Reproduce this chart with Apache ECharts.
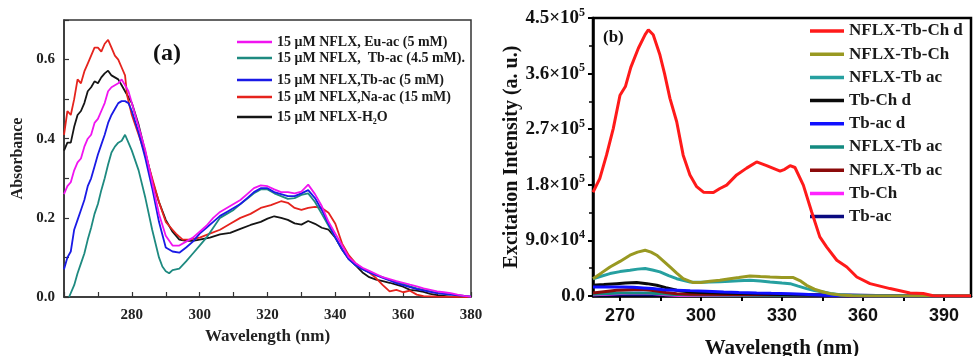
<!DOCTYPE html>
<html>
<head>
<meta charset="utf-8">
<script src="https://cdn.jsdelivr.net/npm/echarts@6/dist/echarts.min.js"></script>
<style>
html, body { margin: 0; padding: 0; background: #fff; }
#chart { width: 973px; height: 356px; }
</style>
</head>
<body>
<div id="chart"></div>
<script>
// ---- panel (a): absorbance, [wavelength nm, absorbance]
const absEuAc = [[260,0.26],[261,0.28],[262,0.29],[263,0.32],[264,0.34],[265,0.35],[266,0.38],[267,0.40],[268,0.41],[269,0.44],[270,0.45],[271,0.47],[272,0.49],[273,0.52],[274,0.53],[275,0.535],[276,0.54],[277,0.55],[278,0.535],[279,0.52],[280,0.49],[282,0.43],[284,0.37],[286,0.29],[288,0.21],[290,0.155],[292,0.13],[294,0.13],[296,0.14],[298,0.15],[300,0.165],[302,0.18],[304,0.20],[306,0.215],[308,0.225],[310,0.235],[312,0.245],[314,0.26],[316,0.275],[318,0.282],[320,0.28],[322,0.272],[324,0.265],[326,0.265],[328,0.262],[330,0.266],[332,0.284],[334,0.26],[336,0.23],[338,0.19],[340,0.16],[342,0.13],[344,0.10],[346,0.085],[348,0.074],[350,0.066],[352,0.058],[354,0.050],[356,0.045],[358,0.040],[360,0.036],[362,0.031],[364,0.027],[366,0.022],[368,0.018],[370,0.014],[372,0.012],[374,0.010],[376,0.006],[378,0.003],[380,0.001]];
const absTbAc45 = [[261.5,0],[263,0.03],[264,0.06],[265,0.085],[266,0.11],[267,0.145],[268,0.175],[269,0.21],[270,0.235],[271,0.27],[272,0.30],[273,0.335],[274,0.365],[275,0.38],[276,0.39],[277,0.395],[278,0.41],[279,0.39],[280,0.37],[282,0.32],[284,0.25],[286,0.17],[288,0.10],[289,0.077],[290,0.065],[291,0.06],[292,0.068],[294,0.072],[296,0.09],[298,0.11],[300,0.13],[302,0.15],[304,0.175],[306,0.20],[308,0.21],[310,0.22],[312,0.235],[314,0.248],[316,0.262],[318,0.272],[320,0.272],[322,0.262],[324,0.255],[326,0.248],[328,0.25],[330,0.258],[332,0.262],[334,0.24],[336,0.21],[338,0.18],[340,0.15],[342,0.12],[344,0.095],[346,0.08],[348,0.07],[350,0.062],[352,0.055],[354,0.05],[356,0.043],[358,0.038],[360,0.033],[362,0.027],[364,0.022],[366,0.018],[368,0.014],[370,0.01],[374,0.006],[378,0.003],[380,0.001]];
const absTbAc5 = [[260,0.07],[261,0.10],[262,0.115],[263,0.17],[264,0.195],[265,0.22],[266,0.245],[267,0.28],[268,0.30],[269,0.33],[270,0.36],[271,0.385],[272,0.41],[273,0.44],[274,0.46],[275,0.475],[276,0.49],[277,0.495],[278,0.495],[279,0.49],[280,0.47],[282,0.415],[284,0.35],[286,0.275],[288,0.19],[290,0.125],[292,0.115],[294,0.112],[296,0.125],[298,0.14],[300,0.16],[302,0.175],[304,0.19],[306,0.205],[308,0.215],[310,0.225],[312,0.235],[314,0.25],[316,0.265],[318,0.275],[320,0.275],[322,0.265],[324,0.26],[326,0.255],[328,0.255],[330,0.262],[332,0.27],[334,0.25],[336,0.22],[338,0.185],[340,0.15],[342,0.12],[344,0.095],[346,0.08],[348,0.07],[350,0.062],[352,0.055],[354,0.048],[356,0.042],[358,0.035],[360,0.030],[362,0.025],[364,0.02],[366,0.017],[368,0.013],[370,0.01],[374,0.006],[378,0.003],[380,0.001]];
const absNaAc = [[260,0.41],[261,0.47],[262,0.46],[263,0.50],[264,0.55],[265,0.54],[266,0.57],[267,0.59],[268,0.61],[269,0.63],[270,0.63],[271,0.62],[272,0.64],[273,0.65],[274,0.63],[275,0.61],[276,0.60],[277,0.58],[278,0.56],[278.6,0.51],[280,0.46],[282,0.41],[284,0.36],[286,0.30],[288,0.24],[290,0.19],[292,0.17],[293,0.16],[295,0.145],[297,0.145],[300,0.150],[303,0.160],[306,0.170],[309,0.185],[312,0.200],[315,0.210],[318,0.225],[321,0.232],[324,0.242],[326,0.238],[328,0.225],[330,0.220],[332,0.225],[334,0.228],[336,0.225],[338,0.213],[340,0.185],[342,0.135],[344,0.105],[346,0.085],[348,0.072],[350,0.062],[352,0.048],[354,0.030],[356,0.014],[358,0.018],[360,0.012],[362,0.016],[364,0.006],[366,0.002],[370,0.001],[380,0]];
const absH2O = [[260,0.37],[261,0.39],[262,0.39],[263,0.43],[264,0.46],[265,0.47],[266,0.49],[267,0.52],[268,0.53],[269,0.545],[270,0.54],[271,0.555],[272,0.565],[273,0.572],[274,0.56],[275,0.555],[276,0.55],[277,0.535],[278,0.52],[280,0.49],[282,0.435],[284,0.365],[286,0.295],[288,0.24],[290,0.195],[292,0.165],[294,0.145],[296,0.142],[298,0.142],[300,0.145],[303,0.15],[306,0.158],[309,0.162],[312,0.172],[315,0.182],[318,0.19],[320,0.198],[322,0.204],[324,0.200],[326,0.195],[328,0.186],[330,0.183],[332,0.192],[334,0.185],[336,0.175],[338,0.17],[340,0.15],[342,0.12],[344,0.097],[346,0.08],[348,0.062],[350,0.05],[352,0.044],[354,0.040],[356,0.036],[358,0.031],[360,0.026],[362,0.018],[364,0.016],[366,0.013],[368,0.008],[370,0.005],[374,0.001],[380,0]];

// ---- panel (b): excitation intensity, [wavelength nm, a.u.]
const excTbChD = [[260,168000],[262.5,190000],[265,228000],[267.5,271000],[270,325000],[272,339000],[274,370000],[276.8,401000],[279.3,423000],[280.5,431000],[282.3,423000],[284.8,390000],[286.5,360000],[288.5,320000],[291,282000],[293.4,228000],[295.9,196000],[298.4,177000],[300.9,168000],[304.6,167500],[307,174000],[309.5,179500],[313.2,196000],[316.9,207000],[320.6,217000],[324.3,211000],[329.3,202000],[331,205000],[333,211000],[334.8,208000],[337.9,179500],[341,136000],[344,95700],[346.5,79500],[350.3,57900],[354,47000],[357.7,30800],[362.6,20000],[370,12000],[377.4,4900],[382.3,3900],[386,500],[390,0],[400,0]];
const excTbCh = [[260,28000],[263,37000],[266.3,47000],[270,56000],[273.7,66000],[276.5,71000],[279.3,74000],[281.5,71000],[283.6,66000],[286,57000],[288.5,47000],[291,37000],[293.4,28000],[297.1,21700],[300,22000],[303.3,23800],[307,25500],[310.7,28000],[314,30000],[318.1,32500],[322,31500],[325.6,30800],[330,30000],[334.2,29800],[337,24000],[339.1,17300],[342,11000],[345.3,6500],[348,3500],[351.5,1500],[356,600],[360,200],[370,0],[400,0]];
const excTbAc = [[260,28000],[263,32000],[266.3,36300],[270,39500],[273.7,41700],[276.5,43500],[279.3,44400],[282,42000],[284.8,39000],[288,33000],[291,28000],[296,22700],[300,22300],[303.3,22700],[307,23000],[310.7,23800],[314,24700],[318.1,25500],[322,24200],[325.6,22700],[330,21000],[333,20000],[336,16000],[339.1,12000],[342,9000],[345.3,6500],[348,4000],[351.5,2000],[356,800],[360,300],[370,0],[400,0]];
const excChD = [[260,17300],[264,18500],[268.8,20000],[272,21000],[276.2,21700],[280,20000],[283.6,17300],[287,13500],[291,9200],[296,6500],[300,5500],[310,4500],[320,3500],[330,2500],[340,1800],[350,1000],[360,500],[370,200],[380,0],[400,0]];
const excAcD = [[260,14600],[265,14600],[271.3,14600],[275,14000],[278.7,13000],[282,12000],[286.1,10300],[291,9500],[296,8700],[302,7800],[308.4,6500],[314,5700],[320.6,4900],[326,4300],[333,3800],[338,2800],[345.3,1100],[350,400],[360,100],[400,0]];
const excTbAc2 = [[260,3000],[270,5000],[280,5000],[290,2500],[300,1500],[330,1000],[360,300],[400,0]];
const excTbAc3 = [[260,5000],[264,7000],[268.8,9200],[273,10300],[277.4,10800],[280,10000],[283.6,8000],[287,5500],[291,3800],[296,2800],[310,2500],[330,2200],[345,1800],[352,800],[360,200],[400,0]];
const excCh = [[260,2000],[265,3000],[270,4000],[277,5000],[282,4000],[287,2000],[292,1000],[320,800],[350,500],[370,0],[400,0]];
const excAc = [[260,1500],[270,2000],[280,2000],[290,1800],[300,1500],[320,1500],[340,1800],[355,1500],[365,1000],[375,500],[385,0],[400,0]];

const xTicksB = [270, 285, 300, 315, 330, 345, 360, 375, 390];
const xLabelsB = [270, 300, 330, 360, 390];

const serif = 'Liberation Serif';
const sans = 'Liberation Sans';

const chart = echarts.init(document.getElementById('chart'));

function sciLabel(v) {
    if (v === 0) return '{m|0.0}';
    const e = Math.floor(Math.log10(v));
    const m = (v / Math.pow(10, e)).toFixed(1);
    return '{m|' + m + '×10}{e|' + e + '}';
}

const legA = (name, top, formatter) => ({
    data: [name], left: 237, top: top, padding: 0, itemGap: 0,
    icon: 'rect', itemWidth: 35, itemHeight: 2.5, selectedMode: false,
    formatter: formatter,
    textStyle: {
        fontFamily: serif, fontWeight: 'bold', fontSize: 14, color: '#1a1a1a',
        rich: { sub: { fontFamily: serif, fontWeight: 'bold', fontSize: 8, color: '#1a1a1a', padding: [9, 0, 0, 0] } }
    }
});

const lineA = (name, data, color, z) => ({
    name: name, type: 'line', xAxisIndex: 0, yAxisIndex: 0, data: data,
    symbol: 'none', z: z, lineStyle: { color: color, width: 1.8 }, itemStyle: { color: color }
});
const lineB = (name, data, color, z) => ({
    name: name, type: 'line', xAxisIndex: 1, yAxisIndex: 1, data: data,
    symbol: 'none', z: z, lineStyle: { color: color, width: 3 }, itemStyle: { color: color }
});

const option = {
    animation: false,
    backgroundColor: '#fff',
    grid: [
        { left: 64, top: 20, right: 502, bottom: 59, outerBoundsMode: 'none', show: true, borderColor: '#333', borderWidth: 1.5 },
        { left: 593, top: 18, right: 2, bottom: 60, outerBoundsMode: 'none', show: true, borderColor: '#000', borderWidth: 2.5 }
    ],
    legend: [
        legA('NFLX, Eu-ac', 35, () => '15 μM NFLX, Eu-ac (5 mM)'),
        legA('NFLX, Tb-ac 4.5', 51, () => '15 μM NFLX,  Tb-ac (4.5 mM).'),
        legA('NFLX,Tb-ac 5', 73, () => '15 μM NFLX,Tb-ac (5 mM)'),
        legA('NFLX,Na-ac', 90, () => '15 μM NFLX,Na-ac (15 mM)'),
        legA('NFLX-H2O', 110, () => '15 μM NFLX-H{sub|2}O'),
        {
            data: ['NFLX-Tb-Ch d', 'NFLX-Tb-Ch', 'NFLX-Tb ac', 'Tb-Ch d', 'Tb-ac d', 'NFLX-Tb ac ', 'NFLX-Tb ac  ', 'Tb-Ch', 'Tb-ac'],
            orient: 'vertical', left: 810, top: 22, padding: 0, itemGap: 5.2,
            icon: 'rect', itemWidth: 34, itemHeight: 3.5, selectedMode: false,
            textStyle: { fontFamily: serif, fontWeight: 'bold', fontSize: 17, lineHeight: 18, color: '#1a1a1a' }
        }
    ],
    xAxis: [
        {
            gridIndex: 0, type: 'value', min: 260, max: 380, interval: 10,
            name: 'Wavelength (nm)', nameLocation: 'middle', nameGap: 31,
            nameTextStyle: { fontFamily: serif, fontWeight: 'bold', fontSize: 17, color: '#222' },
            axisLine: { lineStyle: { color: '#333', width: 1.5 } },
            axisTick: { inside: true, length: 5, lineStyle: { color: '#333', width: 1.2 } },
            splitLine: { show: false },
            axisLabel: {
                fontFamily: serif, fontWeight: 'bold', fontSize: 15, color: '#222', margin: 11,
                formatter: v => (v % 20 === 0 && v !== 260) ? String(v) : ''
            }
        },
        {
            gridIndex: 1, type: 'value', min: 260, max: 400,
            name: 'Wavelength (nm)', nameLocation: 'middle', nameGap: 42,
            nameTextStyle: { fontFamily: serif, fontWeight: 'bold', fontSize: 21, color: '#111' },
            axisLine: { lineStyle: { color: '#000', width: 2.5 } },
            axisTick: { customValues: xTicksB, length: 5, lineStyle: { color: '#000', width: 2 } },
            splitLine: { show: false },
            axisLabel: { customValues: xLabelsB, fontFamily: sans, fontWeight: 'bold', fontSize: 18, color: '#111', margin: 11 }
        }
    ],
    yAxis: [
        {
            gridIndex: 0, type: 'value', min: 0, max: 0.7, interval: 0.1,
            name: 'Absorbance', nameLocation: 'middle', nameGap: 38,
            nameTextStyle: { fontFamily: serif, fontWeight: 'bold', fontSize: 16, color: '#222' },
            axisLine: { show: true, lineStyle: { color: '#333', width: 1.5 } },
            axisTick: { inside: true, length: 5, lineStyle: { color: '#333', width: 1.2 } },
            splitLine: { show: false },
            axisLabel: {
                fontFamily: serif, fontWeight: 'bold', fontSize: 15, color: '#222', margin: 9,
                formatter: v => (Math.round(v * 10) % 2 === 0) ? v.toFixed(1) : ''
            }
        },
        {
            gridIndex: 1, type: 'value', min: 0, max: 450000, interval: 90000,
            name: 'Excitation Intensity (a. u.)', nameLocation: 'middle', nameGap: 70,
            nameTextStyle: { fontFamily: serif, fontWeight: 'bold', fontSize: 20, color: '#111' },
            axisLine: { show: true, lineStyle: { color: '#000', width: 2.5 } },
            axisTick: { length: 5, lineStyle: { color: '#000', width: 2 } },
            minorTick: { show: true, splitNumber: 2, length: 4, lineStyle: { color: '#000', width: 1.5 } },
            splitLine: { show: false },
            axisLabel: {
                margin: 8,
                formatter: sciLabel,
                rich: {
                    m: { fontFamily: serif, fontWeight: 'bold', fontSize: 19, color: '#111' },
                    e: { fontFamily: serif, fontWeight: 'bold', fontSize: 12, color: '#111', padding: [0, 0, 11, 0] }
                }
            }
        }
    ],
    graphic: [
        { type: 'text', left: 153, top: 42, style: { text: '(a)', font: 'bold 24px "Liberation Serif"', fill: '#111' } },
        { type: 'text', left: 603, top: 29, style: { text: '(b)', font: 'bold 17px "Liberation Serif"', fill: '#111' } }
    ],
    series: [
        lineA('NFLX-H2O', absH2O, '#151515', 2),
        lineA('NFLX,Na-ac', absNaAc, '#e5231d', 3),
        lineA('NFLX, Tb-ac 4.5', absTbAc45, '#1e8a80', 4),
        lineA('NFLX,Tb-ac 5', absTbAc5, '#1a1ae6', 5),
        lineA('NFLX, Eu-ac', absEuAc, '#f014f0', 6),
        lineB('Tb-ac', excAc, '#0a0a80', 2),
        lineB('Tb-Ch', excCh, '#ff22ff', 3),
        lineB('NFLX-Tb ac ', excTbAc2, '#138a80', 4),
        lineB('NFLX-Tb ac  ', excTbAc3, '#8b0a0a', 5),
        lineB('Tb-Ch d', excChD, '#0a0a0a', 6),
        lineB('Tb-ac d', excAcD, '#1010ff', 7),
        lineB('NFLX-Tb ac', excTbAc, '#26a0a0', 8),
        lineB('NFLX-Tb-Ch', excTbCh, '#999922', 9),
        lineB('NFLX-Tb-Ch d', excTbChD, '#ff1a1a', 10)
    ]
};

chart.setOption(option);
</script>
</body>
</html>
